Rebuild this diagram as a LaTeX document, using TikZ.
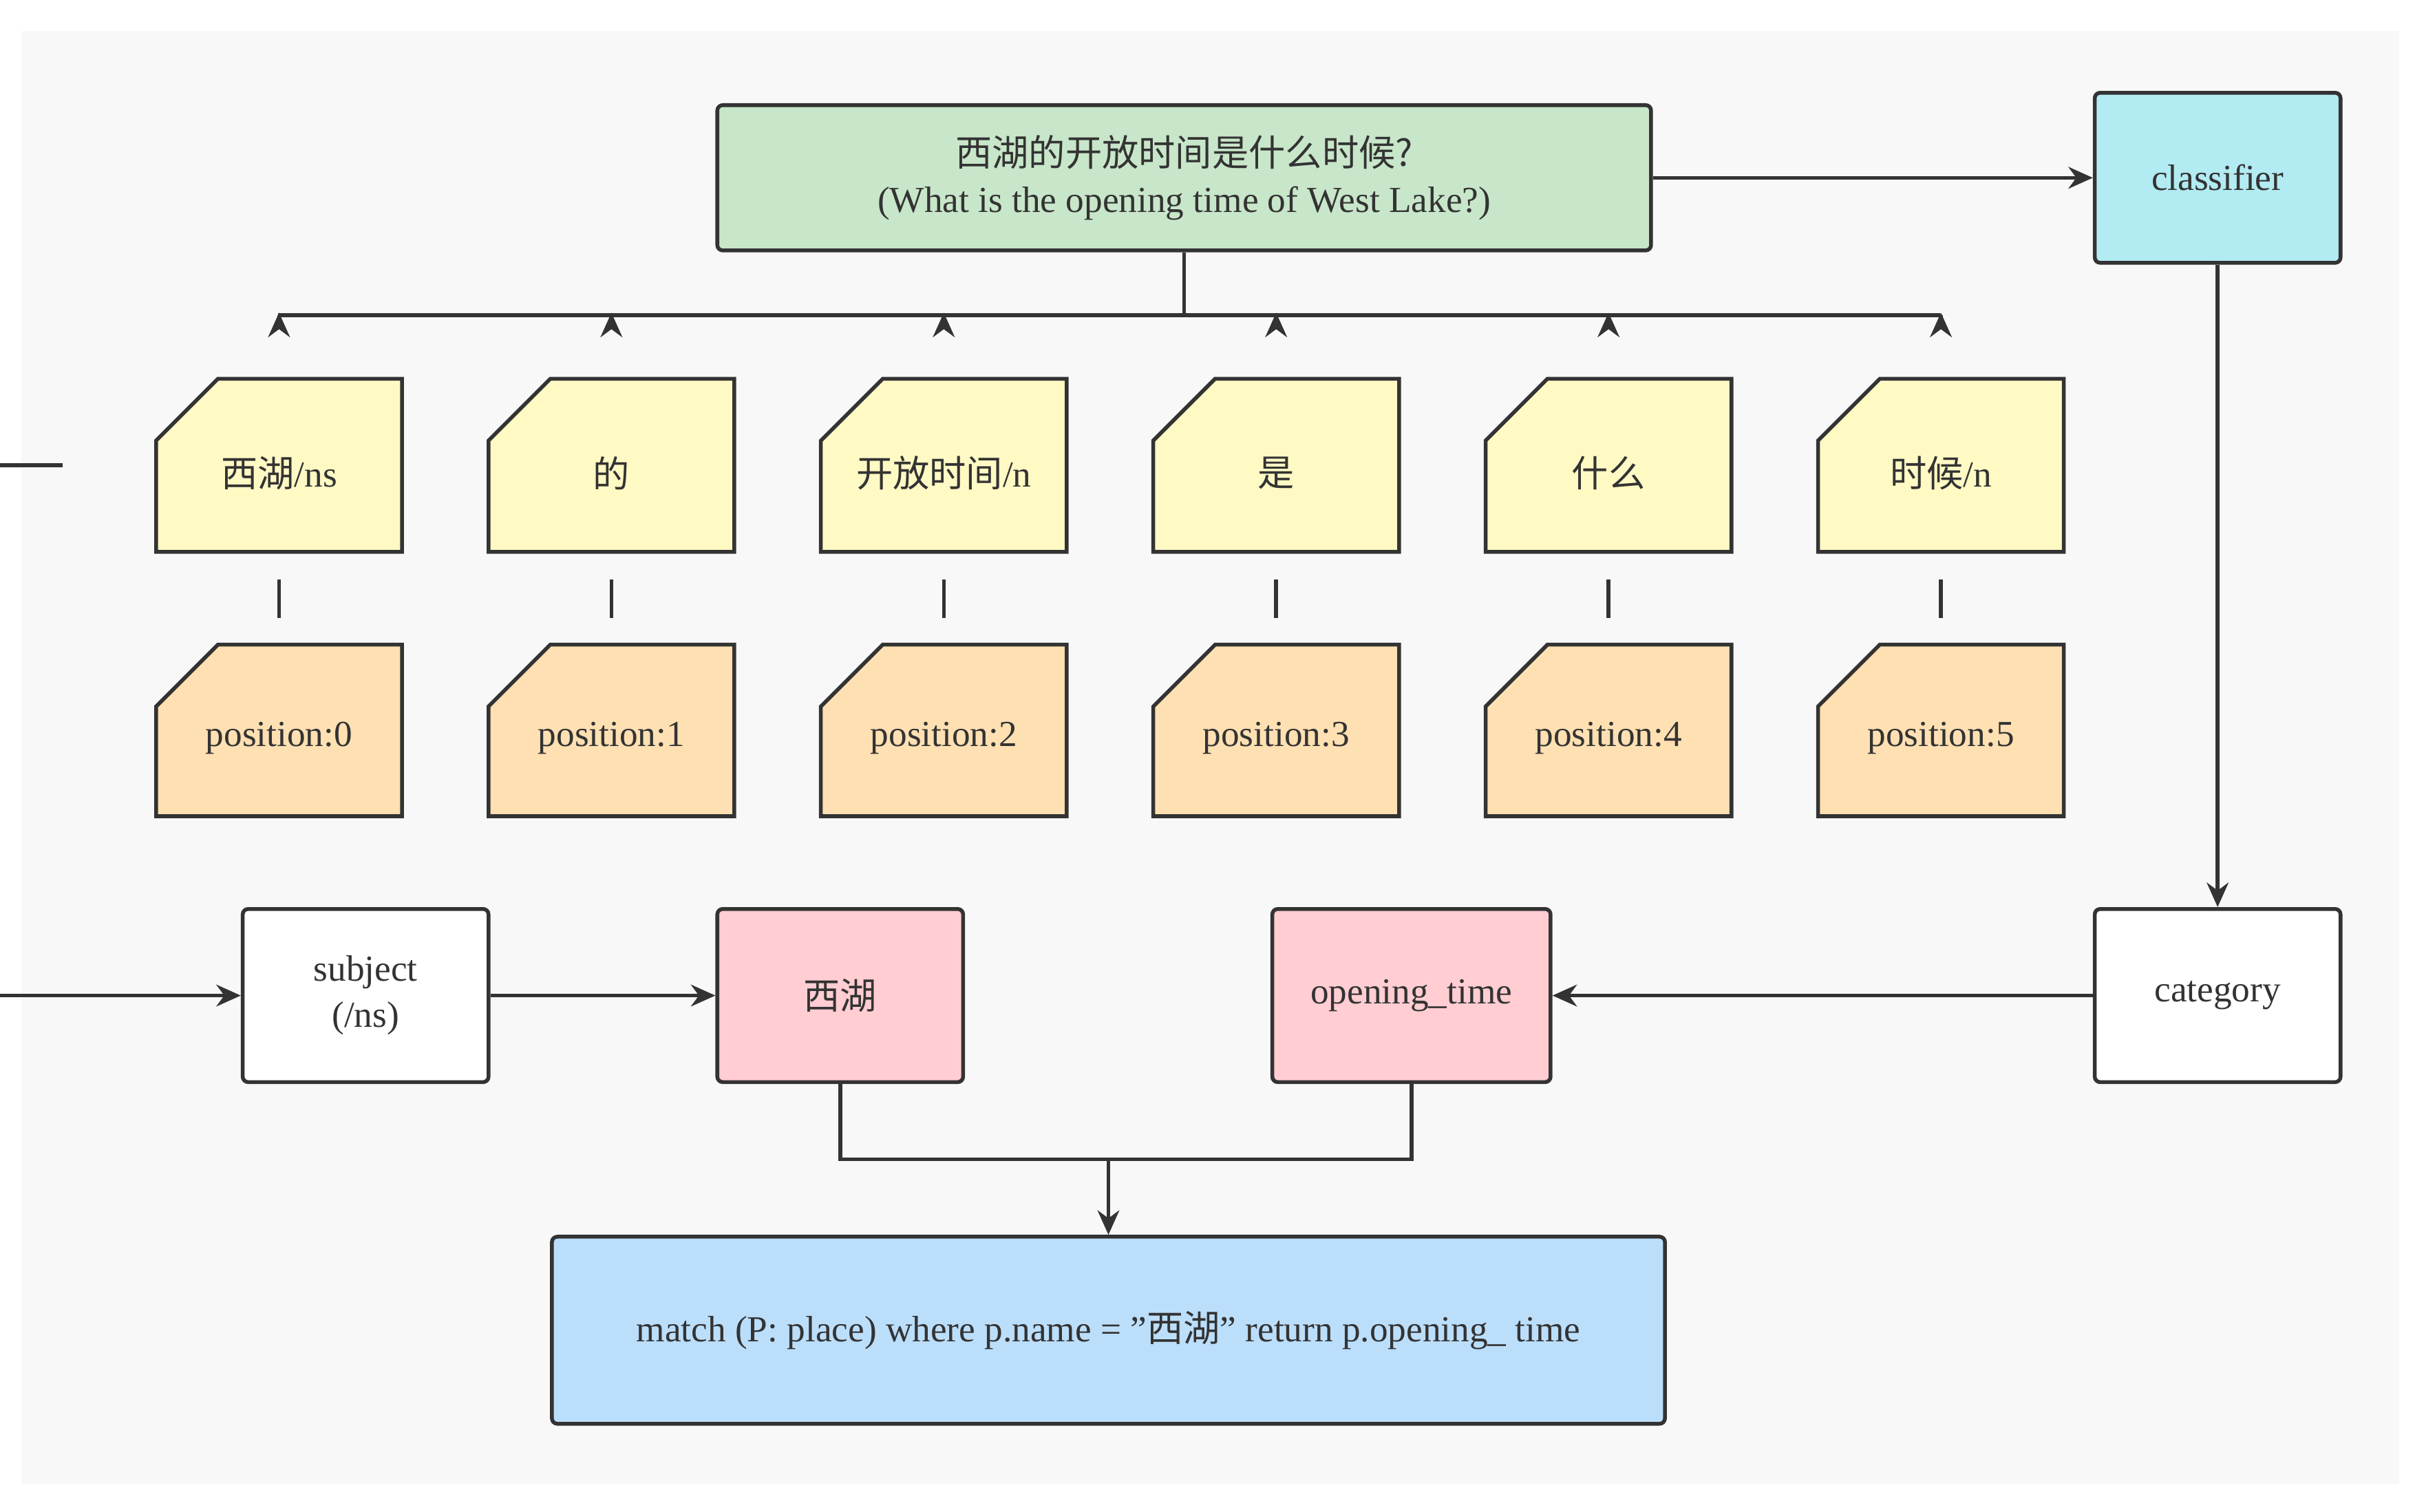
\documentclass[tikz,border=0pt]{standalone}
\usepackage{fontspec}
\setmainfont{Liberation Serif}
\newfontfamily\cjk{Noto Sans CJK SC}
\usetikzlibrary{arrows.meta}
\definecolor{ln}{HTML}{333333}
\definecolor{bg}{HTML}{F8F8F8}
\definecolor{qg}{HTML}{C8E6C9}
\definecolor{cy}{HTML}{B2EBF2}
\definecolor{yw}{HTML}{FFF9C4}
\definecolor{og}{HTML}{FFE0B2}
\definecolor{pk}{HTML}{FFCDD2}
\definecolor{bl}{HTML}{BBDEFB}
\tikzset{
 box/.style={draw=ln,line width=1.4pt,rounded corners=2pt,align=center,inner sep=0pt,
   font=\fontsize{13.5}{17}\selectfont,text=ln},
 lbl/.style={inner sep=0pt,align=center,font=\fontsize{13.5}{17}\selectfont,text=ln},
 con/.style={draw=ln,line width=1.4pt},
 arr/.style={con,-{Stealth[length=9pt,width=8pt]}}
}
\newcommand{\card}[7]{%
 \fill[#6,draw=ln,line width=1.4pt] (#2+40,#3)--(#4,#3)--(#4,#5)--(#2,#5)--(#2,#3+40)--cycle;
 \node[lbl,minimum width=#4-#2,minimum height=#5-#3,shift={(0,0)}] (#1) at ({(#2+#4)/2},{(#3+#5)/2}) {};
 \node[lbl] at ({(#2+#4)/2},{(#3+#5)/2+5}) {#7};}
\begin{document}
\begin{tikzpicture}[x=0.02cm,y=-0.02cm]
\useasboundingbox (0,0) rectangle (1568,978);
\fill[white] (0,0) rectangle (1568,978);
\fill[bg] (14,20) rectangle (1552,960);
\node[box,fill=qg,minimum width=604*0.02cm,minimum height=94*0.02cm] (q) at (766,115)
 {{\cjk 西湖的开放时间是什么时候?}\\(What is the opening time of West Lake?)};
\node[box,fill=cy,minimum width=159*0.02cm,minimum height=110*0.02cm] (cls) at (1434.5,115) {classifier};
\card{w0}{101}{245}{260}{357}{yw}{{\cjk 西湖}/ns}
\card{w1}{316}{245}{475}{357}{yw}{{\cjk 的}}
\card{w2}{531}{245}{690}{357}{yw}{{\cjk 开放时间}/n}
\card{w3}{746}{245}{905}{357}{yw}{{\cjk 是}}
\card{w4}{961}{245}{1120}{357}{yw}{{\cjk 什么}}
\card{w5}{1176}{245}{1335}{357}{yw}{{\cjk 时候}/n}
\card{p0}{101}{417}{260}{528}{og}{position:0}
\card{p1}{316}{417}{475}{528}{og}{position:1}
\card{p2}{531}{417}{690}{528}{og}{position:2}
\card{p3}{746}{417}{905}{528}{og}{position:3}
\card{p4}{961}{417}{1120}{528}{og}{position:4}
\card{p5}{1176}{417}{1335}{528}{og}{position:5}
\node[box,fill=white,minimum width=159*0.02cm,minimum height=112*0.02cm] (sub) at (236.5,644) {subject\\(/ns)};
\node[box,fill=pk,minimum width=159*0.02cm,minimum height=112*0.02cm] (xh) at (543.5,644) {\cjk 西湖};
\node[box,fill=pk,minimum width=180*0.02cm,minimum height=112*0.02cm] (ot) at (913,644) {opening\_time};
\node[box,fill=white,minimum width=159*0.02cm,minimum height=112*0.02cm] (cat) at (1434.5,644) {category};
\node[box,fill=bl,minimum width=720*0.02cm,minimum height=121*0.02cm] (m) at (717,860.5)
 {match (P: place) where p.name = "{\cjk 西湖}" return p.opening\_ time};
\coordinate (bus) at (766,204);
\draw[con] (q.south) -- (bus);
\draw[con] (180,204) -- (1255,204);
\foreach \w/\x in {w0/180.5,w1/395.5,w2/610.5,w3/825.5,w4/1040.5,w5/1255.5}
  \draw[arr] (\x,204) -- (\w.north);
\foreach \i in {0,...,5} \draw[con] (w\i.south) -- (p\i.north);
\draw[arr] (q.east) -- (cls.west);
\draw[arr] (cls.south) -- (cat.north);
\draw[arr] (w0.west) -- ++(-48,0) |- (sub.west);
\draw[arr] (sub.east) -- (xh.west);
\draw[arr] (cat.west) -- (ot.east);
\coordinate (j) at (717,750);
\draw[con] (xh.south) |- (j) -| (ot.south);
\draw[arr] (j) -- (m.north);
\end{tikzpicture}
\end{document}
